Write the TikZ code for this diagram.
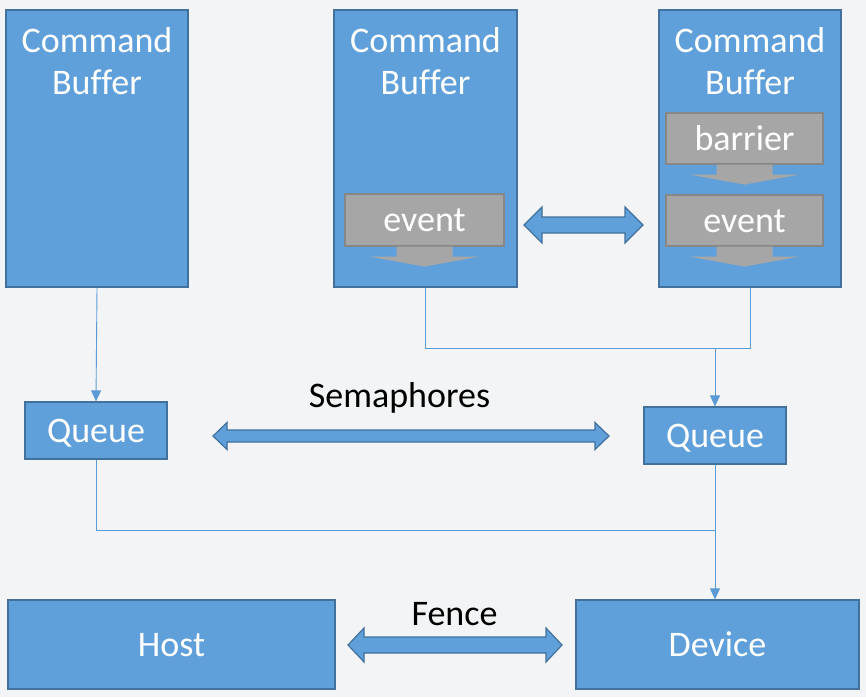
\documentclass[tikz,border=0pt]{standalone}
\usepackage{fontspec}
\setmainfont{Carlito}[Ligatures=NoCommon]
\usetikzlibrary{calc,positioning,arrows.meta}

\definecolor{boxblue}{HTML}{5FA0DA}
\definecolor{boxedge}{HTML}{41719C}
\definecolor{evgray}{HTML}{A6A6A6}
\definecolor{evedge}{HTML}{878787}
\definecolor{bggray}{HTML}{F3F4F5}
\definecolor{linkblue}{HTML}{5B9BD5}

\newcommand\dropArrow[1]{%
  \fill[evgray] let \p1 = (#1.south) in (\x1-28pt,\y1) -- (\x1-28pt,\y1-10pt)
    -- (\x1-55pt,\y1-10pt) -- (\x1,\y1-20pt) -- (\x1+55pt,\y1-10pt)
    -- (\x1+28pt,\y1-10pt) -- (\x1+28pt,\y1) -- cycle;}
\newcommand\fatArrow[5]{%
  \filldraw[fatarrow] let \p1 = (#1), \p2 = (#2) in (\x1,\y1)
    -- (\x1+#5pt,\y1+#4pt) -- (\x1+#5pt,\y1+#3pt) -- (\x2-#5pt,\y1+#3pt)
    -- (\x2-#5pt,\y1+#4pt) -- (\x2,\y1) -- (\x2-#5pt,\y1-#4pt)
    -- (\x2-#5pt,\y1-#3pt) -- (\x1+#5pt,\y1-#3pt) -- (\x1+#5pt,\y1-#4pt) -- cycle;}

\begin{document}
\begin{tikzpicture}[x=1pt, y=-1pt,
    blue box/.style={draw=boxedge, fill=boxblue, line width=1.2pt, inner sep=0pt},
    gray box/.style={draw=evedge, fill=evgray, line width=1.2pt, inner sep=0pt,
        minimum width=157pt, minimum height=51pt, box text},
    box text/.style={text=white, font=\fontsize{36}{42}\selectfont,
        text height=23pt, text depth=0pt},
    cb text/.style={text=white, font=\fontsize{36}{42}\selectfont,
        align=center, inner sep=0pt},
    lbl/.style={font=\fontsize{36}{42}\selectfont, inner sep=0pt},
    fatarrow/.style={draw=boxedge, fill=boxblue, line width=1.2pt},
    link/.style={draw=linkblue, line width=0.9pt},
    >={Triangle[width=10pt,length=11pt]}]

    \fill[bggray] (0,0) rectangle (866,697);

    \node[blue box, minimum width=182pt, minimum height=277pt] (cb1) at (97,148.5) {};
    \node[blue box, minimum width=183pt, minimum height=277pt] (cb2) at (425.5,148.5) {};
    \node[blue box, minimum width=182pt, minimum height=277pt] (cb3) at (750,148.5) {};
    \node[cb text, below=18pt of cb1.north] (cb1 t) {Command\\Buffer};
    \node[cb text, below=18pt of cb2.north] (cb2 t) {Command\\Buffer};
    \node[cb text, below=18pt of cb3.north] (cb3 t) {Command\\Buffer};

    \node[gray box, minimum width=159pt, minimum height=52pt] (ev2) at (424.5,220) {event};
    \node[gray box] (bar3) at (744.5,138.5) {barrier};
    \node[gray box] (ev3) at (744.5,220.5) {event};
    \dropArrow{ev2}
    \dropArrow{bar3}
    \dropArrow{ev3}

    \node[blue box, box text, minimum width=142pt, minimum height=57pt] (q1) at (96,430.5) {Queue};
    \node[blue box, box text, minimum width=142pt, minimum height=57pt] (q2) at (715,435.5) {Queue};
    \node[blue box, box text, minimum width=327pt, minimum height=89pt] (host) at (171.5,644.5) {Host};
    \node[blue box, box text, minimum width=283pt, minimum height=89pt] (dev) at (717.5,644.5) {Device};

    \node[lbl, anchor=base] (sem) at (399.5,407) {Semaphores};
    \node[lbl, anchor=base] (fence) at (454.5,625) {Fence};

    \coordinate (sync l) at (524,225);
    \coordinate (sync r) at (643,225);
    \coordinate (sem l) at (213,436);
    \coordinate (sem r) at (609,436);
    \coordinate (fence l) at (348,645);
    \coordinate (fence r) at (562,645);
    \fatArrow{sync l}{sync r}{8}{18}{18}
    \fatArrow{sem l}{sem r}{6}{13.5}{14}
    \fatArrow{fence l}{fence r}{8}{17}{16}

    \coordinate (j1) at (0,348);
    \coordinate (j2) at (q2.south |- 0,530);
    \draw[link,->] (cb1.south) -- (q1.north);
    \draw[link] (cb2.south) |- (cb3.south |- j1) -- (cb3.south);
    \draw[link,->] (q2.north |- j1) -- (q2.north);
    \draw[link] (q1.south) |- (j2);
    \draw[link,->] (q2.south) -- (q2.south |- dev.north);
\end{tikzpicture}
\end{document}
